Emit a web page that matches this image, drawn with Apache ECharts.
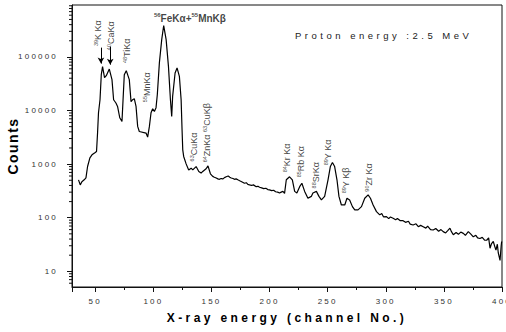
<!DOCTYPE html>
<html>
<head>
<meta charset="utf-8">
<script src="https://cdn.jsdelivr.net/npm/echarts@6/dist/echarts.min.js"></script>
<style>
html, body { margin: 0; padding: 0; background: #fff; }
#main { width: 506px; height: 332px; }
/* old Origin-style spaced lettering */
text[style*="spxa"] { letter-spacing: 1.5px; }
text[style*="spxb"] { letter-spacing: 2.2px; }
text[style*="spxc"] { letter-spacing: 3.4px; }
text[style*="spxd"] { letter-spacing: 3.5px; }
</style>
</head>
<body>
<div id="main"></div>
<script>
let chartDom = document.getElementById('main');
let myChart = echarts.init(chartDom, null, { renderer: 'svg' });

// spectrum
const channel = [
	35.6, 37.1, 38.5, 40.5, 42.0, 43.4, 45.4, 47.2, 50.0, 51.1, 52.0, 52.8, 54.1, 55.2, 56.3, 58.0, 59.5, 62.1, 64.4, 65.8,
	67.8, 69.2, 71.1, 73.0, 75.0, 76.7, 79.3, 80.8, 82.2, 83.6, 85.1, 86.5, 87.9, 93.7, 95.1, 96.6, 98.0, 99.4, 100.9, 102.3,
	103.4, 105.2, 107.2, 108.9, 111.0, 113.0, 114.7, 115.8, 116.6, 118.7, 120.4, 122.4, 123.9, 124.7, 125.3, 126.1, 128.2, 130.4, 132.5, 133.9,
	136.8, 139.1, 141.1, 142.5, 145.4, 147.0, 149.1, 151.1, 152.5, 154.1, 155.5, 156.9, 158.3, 159.7, 161.2, 162.7, 164.4, 165.8, 167.0, 168.5,
	169.8, 171.2, 172.7, 174.3, 176.0, 178.4, 180.0, 181.3, 182.8, 184.5, 186.1, 188.5, 190.0, 191.4, 193.2, 195.0, 196.8, 198.5, 200.0, 201.8,
	203.5, 205.2, 207.0, 208.6, 210.0, 211.5, 212.9, 214.4, 217.2, 219.6, 221.6, 223.5, 225.9, 227.8, 230.2, 233.0, 235.9, 237.3, 240.3, 242.5,
	244.6, 247.4, 250.3, 252.3, 254.1, 256.0, 258.0, 259.7, 261.8, 264.7, 266.6, 268.9, 271.3, 273.3, 276.1, 279.1, 281.9, 284.8, 286.8, 289.1,
	292.0, 294.8, 296.5, 298.0, 300.6, 302.5, 304.0, 306.3, 308.5, 310.0, 312.5, 314.9, 317.0, 319.5, 321.0, 323.5, 326.0, 328.0, 330.0, 332.2,
	334.5, 336.0, 338.5, 340.8, 343.0, 345.5, 347.5, 349.4, 351.5, 353.5, 355.2, 356.5, 358.1, 360.5, 362.5, 364.5, 366.7, 368.5, 371.0, 373.0,
	375.3, 377.5, 379.0, 381.0, 383.0, 385.0, 386.8, 388.5, 389.7, 391.0, 392.5, 394.0, 394.8, 396.0, 396.8, 398.3, 399.3, 399.7
];
const counts = [
	509, 410, 470, 509, 555, 902, 1310, 1490, 1650, 1720, 3850, 9100, 15900, 46600, 65900, 41000, 44700, 59200, 37700, 15900,
	13800, 11900, 7330, 6250, 46600, 55400, 37700, 14600, 15900, 16600, 11900, 5050, 4060, 3790, 3200, 5050, 9100, 10800, 9620, 11300,
	19700, 78200, 210000, 385000, 210000, 66700, 15900, 7770, 18400, 50200, 62300, 43400, 15900, 4370, 1850, 1390, 1010, 780, 840, 780,
	900, 730, 680, 730, 820, 930, 660, 590, 570, 550, 530, 520, 540, 530, 560, 580, 600, 570, 550, 540,
	520, 530, 510, 490, 470, 440, 450, 420, 410, 400, 410, 380, 385, 370, 360, 350, 355, 335, 330, 320,
	325, 305, 300, 290, 300, 310, 285, 510, 580, 510, 310, 290, 380, 440, 310, 230, 250, 290, 310, 250,
	215, 250, 510, 900, 1070, 900, 510, 250, 173, 173, 231, 215, 161, 140, 140, 161, 231, 267, 231, 173,
	130, 113, 120, 104, 105, 96, 103, 98, 92, 97, 88, 88, 82, 86, 76, 73, 77, 68, 72, 68,
	64, 70, 60, 59, 63, 56, 60, 55, 52, 58, 64, 55, 48, 53, 49, 54, 51, 47, 55, 50,
	44, 47, 42, 41, 43, 38, 38, 42, 27, 33, 36, 28, 25, 32, 22, 16, 30, 36
];

// peak labels (anchor = lower end of the vertical text)
const peakChannel = [52.6, 63.8, 78.0, 95.3, 135.3, 146.6, 215.5, 227.6, 240.5, 250.5, 266.4, 286.2];
const peakCounts = [156000, 131000, 75000, 14000, 1100, 1060, 690, 555, 345, 930, 280, 300];
const peakMass = ['39', '40', '48', '55', '63', '64', '84', '85', '88', '89', '89', '90'];
const peakName = ['K Kα', 'CaKα', 'TiKα', 'MnKα', 'CuKα', 'ZnKα ', 'Kr Kα', 'Rb Kα', 'SrKα', 'Y Kα', 'Y Kβ', 'Zr Kα'];
const peakMass2 = ['', '', '', '', '', '63', '', '', '', '', '', ''];
const peakName2 = ['', '', '', '', '', 'CuKβ', '', '', '', '', '', ''];

// the horizontal label over the big peak
const topChannel = 131.9;
const topCounts = 510000;
const topParts = ['56', 'FeKα+', '55', 'MnKβ'];

// arrows to K and Ca peaks
const arrowChannel = [54.9, 62.9];
const arrowFrom = [149000, 156000];
const arrowTo = [75000, 71800];

// log axis minor ticks
const decades = [1, 10, 100, 1000, 10000, 100000];
const minorSteps = [2, 3, 4, 5, 6, 7, 8, 9];
const yMin = 5.1;
const yMax = 930000;
const xMin = 30;
const xMax = 400;

let yMinor = [];
for (let d of decades) {
	for (let s of minorSteps) {
		let v = d * s;
		if (v > yMin && v < yMax) yMinor.push(v);
	}
}

let lineData = channel.map((c, i) => [c, counts[i]]);

let peakData = peakChannel.map((c, i) => ({
	value: [c, peakCounts[i]],
	label: {
		formatter: '{s|' + peakMass[i] + '}{t|' + peakName[i] + '}' +
			(peakMass2[i] ? '{s|' + peakMass2[i] + '}{t|' + peakName2[i] + '}' : '')
	}
}));

let topFormatter = topParts.map((p, i) => '{' + (i % 2 === 0 ? 's' : 't') + '|' + p + '}').join('');

let option = {
	animation: false,
	grid: {
		left: 72, right: 4, top: 5, bottom: 45,
		show: true, borderColor: '#111', borderWidth: 1,
		containLabel: false, outerBoundsMode: 'none'
	},
	xAxis: {
		type: 'value', min: xMin, max: xMax, splitNumber: 7,
		name: 'X-ray energy (channel No.)', nameLocation: 'middle', nameGap: 25,
		nameTextStyle: { fontFamily: 'Liberation Sans, spxc', fontSize: 12, fontWeight: 'bold', color: '#000' },
		axisLine: { onZero: false, lineStyle: { color: '#111', width: 1 } },
		axisTick: { length: 5, lineStyle: { color: '#111' } },
		minorTick: { show: true, splitNumber: 2, length: 3, lineStyle: { color: '#111' } },
		splitLine: { show: false },
		axisLabel: { showMinLabel: false, margin: 10, fontFamily: 'Liberation Sans, spxb', fontSize: 8, color: '#333' }
	},
	yAxis: {
		type: 'log', logBase: 10, min: yMin, max: yMax,
		name: 'Counts', nameLocation: 'middle', nameGap: 50,
		nameTextStyle: { fontFamily: 'Liberation Sans, spxa', fontSize: 14, fontWeight: 'bold', color: '#000' },
		axisLine: { lineStyle: { color: '#111', width: 1 } },
		axisTick: { length: 5, lineStyle: { color: '#111' } },
		splitLine: { show: false },
		axisLabel: {
			showMinLabel: false, showMaxLabel: false, margin: 14,
			fontFamily: 'Liberation Sans, spxb', fontSize: 8, color: '#333',
			formatter: (v) => String(Math.round(v))
		}
	},
	graphic: [{
		type: 'text', left: 295, top: 30,
		style: { text: 'Proton energy :2.5 MeV', fontFamily: 'Liberation Sans, spxd', fontSize: 9.5, fill: '#222' }
	}],
	series: [
		{
			type: 'line',
			data: lineData,
			showSymbol: false,
			lineStyle: { color: '#000', width: 1.2 },
			silent: true,
			markLine: {
				silent: true,
				symbol: ['none', 'arrow'],
				symbolSize: [5, 6],
				label: { show: false },
				lineStyle: { color: '#000', width: 1, type: 'solid' },
				data: arrowChannel.map((c, i) => [{ coord: [c, arrowFrom[i]] }, { coord: [c, arrowTo[i]] }])
			}
		},
		{
			type: 'scatter',
			data: peakData,
			symbolSize: 1,
			itemStyle: { color: 'transparent' },
			silent: true,
			label: {
				show: true, position: [0, 0], rotate: 90,
				align: 'left', verticalAlign: 'middle',
				rich: {
					s: { fontSize: 5.5, fontFamily: 'Liberation Sans', color: '#111', verticalAlign: 'top', lineHeight: 10 },
					t: { fontSize: 9, fontFamily: 'Liberation Sans', color: '#111', lineHeight: 10 }
				}
			}
		},
		{
			type: 'scatter',
			data: [[topChannel, topCounts]],
			symbolSize: 1,
			itemStyle: { color: 'transparent' },
			silent: true,
			label: {
				show: true, position: [0, 0], align: 'center', verticalAlign: 'middle',
				formatter: topFormatter,
				rich: {
					s: { fontSize: 6, fontFamily: 'Liberation Sans', fontWeight: 'bold', color: '#111', verticalAlign: 'top', lineHeight: 12 },
					t: { fontSize: 10, fontFamily: 'Liberation Sans', fontWeight: 'bold', color: '#111', lineHeight: 12 }
				}
			}
		},
		{
			type: 'custom',
			silent: true,
			clip: false,
			z: 5,
			data: yMinor.map(v => [xMin, v]),
			renderItem: (params, api) => {
				let p = api.coord([api.value(0), api.value(1)]);
				return {
					type: 'line',
					shape: { x1: p[0] - 3, y1: p[1], x2: p[0], y2: p[1] },
					style: { stroke: '#111', lineWidth: 1 }
				};
			}
		}
	]
};

myChart.setOption(option);
</script>
</body>
</html>
